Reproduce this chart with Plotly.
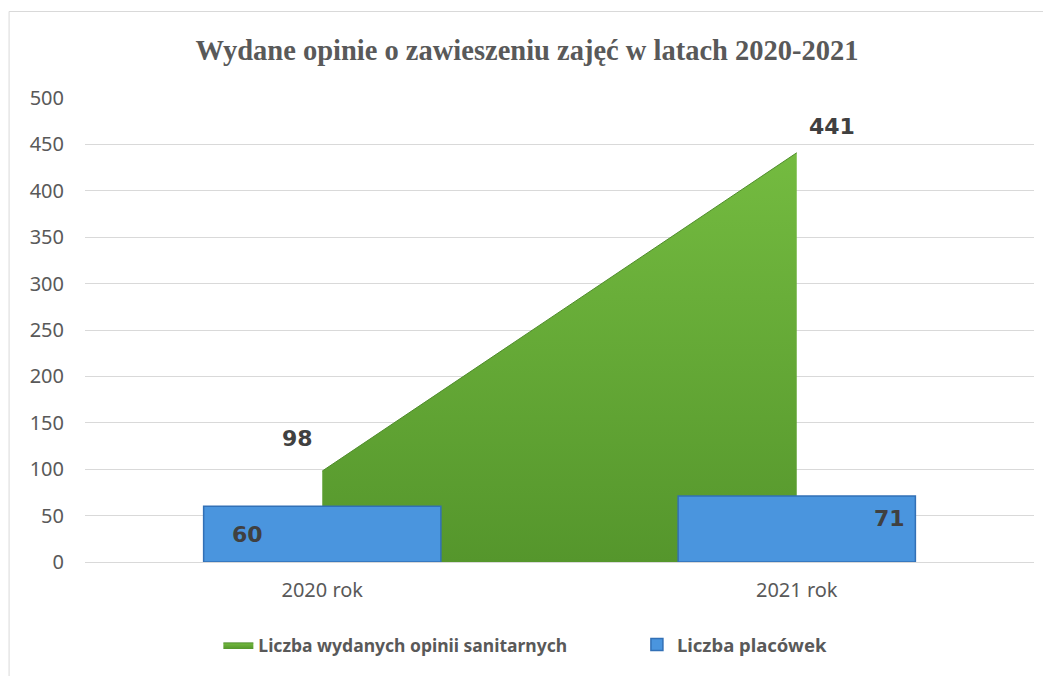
import plotly.graph_objects as go

categories = ["2020 rok", "2021 rok"]
opinie = [98, 441]
placowki = [60, 71]
series_names = ["Liczba wydanych opinii sanitarnych", "Liczba placówek"]
title_text = "Wydane opinie o zawieszeniu zajęć w latach 2020-2021"
y_ticks = [0, 50, 100, 150, 200, 250, 300, 350, 400, 450, 500]

# page offset (browser body margin)
OFF = 8
SW, SH = 1051, 676
W, H = SW - OFF, SH - OFF
# plot area in screen px
PX0, PX1, PY0, PY1 = 84.5, 1034.5, 98, 562
L, R, T, B = PX0 - OFF, SW - PX1, PY0 - OFF, SH - PY1
pw, ph = PX1 - PX0, PY1 - PY0

def px_to_paper_x(px):
    return (px - PX0) / pw

def px_to_paper_y(py):
    return (PY1 - py) / ph

fig = go.Figure()

fig.add_trace(go.Scatter(
    x=categories, y=opinie, name=series_names[0],
    mode="lines", fill="tozeroy",
    line=dict(color="#4f8d2b", width=1),
    fillcolor="#62a835",
    fillgradient=dict(type="vertical",
                      colorscale=[[0, "#55962c"], [1, "#74bb40"]]),
    xaxis="x", yaxis="y", hoverinfo="x+y", legend="legend",
))

fig.add_trace(go.Bar(
    x=categories, y=placowki, name=series_names[1],
    width=0.5,
    marker=dict(color="#4a95de", line=dict(color="#3270b6", width=1.5)),
    xaxis="x2", yaxis="y2", legend="legend2",
))

annotations = []
label_font = dict(family="DejaVu Sans", size=22, color="#404040")
opinie_shifts = [(-25, 33), (35, 26)]
for c, v, (dx, dy) in zip(categories, opinie, opinie_shifts):
    annotations.append(dict(x=c, y=v, xref="x", yref="y", text=f"<b>{v}</b>",
                            showarrow=False, xshift=dx, yshift=dy, font=label_font))
plac_shifts = [(-75, 0), (93, 11)]
for c, v, (dx, dy) in zip(categories, placowki, plac_shifts):
    annotations.append(dict(x=c, y=v / 2, xref="x", yref="y", text=f"<b>{v}</b>",
                            showarrow=False, xshift=dx, yshift=dy, font=label_font))

axis_common = dict(range=[-0.5, 1.5], type="category")
tick_font = dict(family="Noto Sans", size=20, color="#595959")
fig.update_layout(
    width=W, height=H,
    margin=dict(l=L, r=R, t=T, b=B, autoexpand=False),
    paper_bgcolor="white", plot_bgcolor="white",
    title=dict(text=f"<b>{title_text}</b>", x=px_to_paper_x(527), xref="paper",
               y=1 - (50 - OFF) / H, yref="container", xanchor="center", yanchor="middle",
               font=dict(family="Liberation Serif", size=28.5, color="#595959")),
    xaxis=dict(**axis_common, showgrid=False, showline=False, zeroline=False,
               tickfont=tick_font, ticks="", ticklabelstandoff=14),
    xaxis2=dict(**axis_common, overlaying="x", showgrid=False, showline=False,
                zeroline=False, showticklabels=False),
    yaxis=dict(range=[0, 500], tickvals=y_ticks, showgrid=True, gridcolor="#d9d9d9",
               gridwidth=1, zeroline=True, zerolinecolor="#d9d9d9", zerolinewidth=1,
               showline=False, ticks="", ticklabelstandoff=20, tickfont=tick_font),
    yaxis2=dict(range=[0, 500], overlaying="y", showgrid=False, zeroline=False,
                showticklabels=False),
    showlegend=True,
    legend=dict(orientation="h", x=px_to_paper_x(218), xanchor="left",
                y=px_to_paper_y(645), yanchor="middle",
                font=dict(family="Noto Sans", size=17.5, color="#595959", weight="bold"),
                itemwidth=30, bgcolor="rgba(0,0,0,0)"),
    legend2=dict(orientation="h", x=px_to_paper_x(637), xanchor="left",
                 y=px_to_paper_y(645), yanchor="middle",
                 font=dict(family="Noto Sans", size=18.5, color="#595959", weight="bold"),
                 itemwidth=30, bgcolor="rgba(0,0,0,0)"),
    annotations=annotations,
    shapes=[dict(type="rect", xref="paper", yref="paper",
                 x0=px_to_paper_x(8.5), x1=px_to_paper_x(1070),
                 y0=px_to_paper_y(700), y1=px_to_paper_y(11.5),
                 line=dict(color="#d9d9d9", width=1), fillcolor="rgba(0,0,0,0)",
                 layer="below")],
)

fig.write_html("out.html")
